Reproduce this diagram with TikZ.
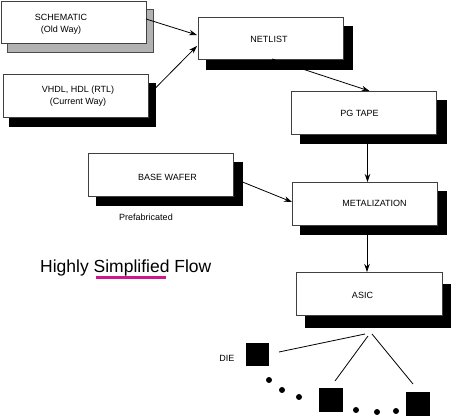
\documentclass[tikz,border=0pt]{standalone}
\usepackage{fontspec}
\setmainfont{Liberation Sans}
\usetikzlibrary{calc,arrows.meta}
\definecolor{uline}{HTML}{D0168C}
\tikzset{
  front/.style={draw=black!75, line width=0.8pt, fill=white, inner sep=0pt, outer sep=0pt, minimum width=145pt, minimum height=43pt},
  shade/.style={draw=black, line width=0.8pt, fill=black, inner sep=0pt, outer sep=0pt, minimum width=146pt, minimum height=43pt},
  greyshade/.style={shade, fill=black!30, draw=black!70},
  lbl/.style={font=\fontsize{9}{12}\selectfont, inner sep=0pt, align=center},
  conn/.style={line width=0.8pt, -{Stealth[length=8pt,width=5.5pt]}},
  fan/.style={line width=0.8pt},
  die/.style={fill=black, inner sep=0pt, minimum size=23.5pt},
  dot/.style={circle, fill=black, inner sep=0pt, minimum size=6pt}
}
\begin{document}
\begin{tikzpicture}[x=1pt,y=-1pt]
\useasboundingbox (0,0) rectangle (451,417);
% shadows
\node[greyshade] (schsh) at (80.5,31) {};
\node[shade] (vhdlsh) at (82,105) {};
\node[shade] (netsh) at (279,47.5) {};
\node[shade] (pgsh) at (373,122) {};
\node[shade] (basesh) at (169.5,183.5) {};
\node[shade] (metsh) at (373,212.5) {};
\node[shade, minimum height=43pt] (asicsh) at (378,305.5) {};
% fronts
\node[front, minimum height=42pt] (sch) at (73.5,22) {};
\node[front] (vhdl) at (75.5,95.5) {};
\node[front, minimum height=42pt] (net) at (270.5,38) {};
\node[front] (pg) at (363.5,112.5) {};
\node[front] (base) at (160.5,174.5) {};
\node[front] (met) at (364.5,203.5) {};
\node[front, minimum width=146pt] (asic) at (369,293.5) {};
% labels
\node[lbl] (schl) at (61,24) {SCHEMATIC\\(Old Way)};
\node[lbl] (vhdll) at (78,96) {VHDL, HDL (RTL)\\(Current Way)};
\node[lbl] (netl) at (269,39) {NETLIST};
\node[lbl] (pgl) at (359.5,113) {PG TAPE};
\node[lbl] (basel) at (167.5,177) {BASE WAFER};
\node[lbl] (metl) at (374.5,203) {METALIZATION};
\node[lbl] (asicl) at (362.5,295) {ASIC};
\node[lbl] (pref) at (146,217) {Prefabricated};
\node[lbl] (diel) at (227,358) {DIE};
\node[inner sep=0pt, anchor=base west, font=\fontsize{17.5}{20}\selectfont] (title) at (40,273) {Highly Simplified Flow};
\draw[uline, line width=2.6pt] ($(title.base west)+(56,4.5)$) coordinate (ul1) -- ($(title.base west)+(126,4.5)$) coordinate (ul2);
% connectors
\draw[conn] ($(sch.east)+(0,-3)$) -- ($(net.west)+(-1,-3)$);
\draw[conn] ($(vhdlsh.north east)+(0,5)$) -- ($(net.west)+(-1,8)$);
\draw[conn] ($(net.south)+(1.5,0)$) -- ($(pg.north)+(6,0)$);
\draw[conn] ($(pgsh.south)+(-5.5,0)$) -- ($(met.north)+(3,0)$);
\draw[conn] ($(basesh.east)+(0,-1.5)$) -- ($(met.west)+(0,-1.5)$);
\draw[conn] ($(metsh.south)+(-6,0)$) -- ($(asic.north)+(-2,0)$);
% dies
\node[die] (d1) at (257.5,354.5) {};
\node[die] (d2) at (331,400) {};
\node[die] (d3) at (418,404) {};
\coordinate (f1) at (365,334);
\coordinate (f2) at (368,336);
\coordinate (f3) at (372,334);
\coordinate (e1) at (279,352);
\coordinate (e2) at (335,381);
\coordinate (e3) at (413,384);
\draw[fan] (f1) -- (e1);
\draw[fan] (f2) -- (e2);
\draw[fan] (f3) -- (e3);
\node[dot] (p1) at (269,380) {};
\node[dot] (p2) at (282,390) {};
\node[dot] (p3) at (299,397) {};
\node[dot] (p4) at (356,410) {};
\node[dot] (p5) at (377,412) {};
\node[dot] (p6) at (396,411) {};
\end{tikzpicture}
\end{document}
